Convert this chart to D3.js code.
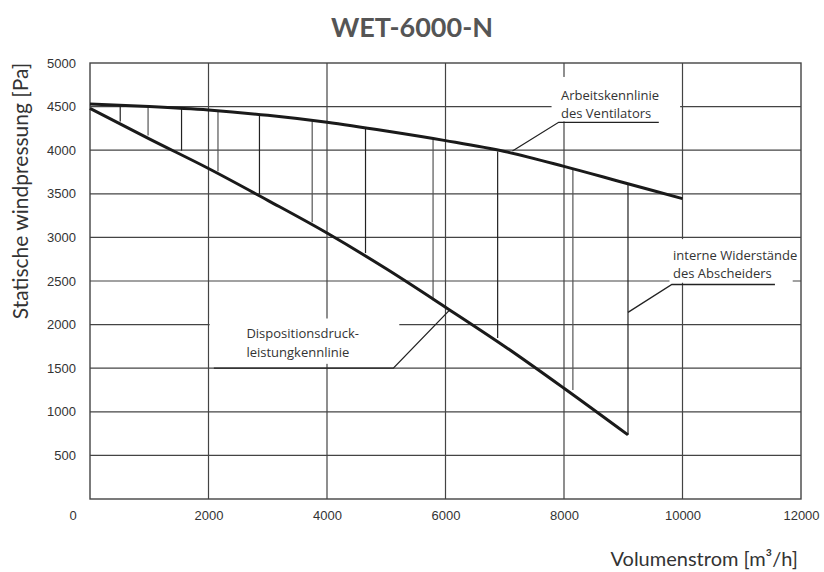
<!DOCTYPE html>
<html>
<head>
<meta charset="utf-8">
<script src="https://cdn.jsdelivr.net/npm/d3@7"></script>
<style>
  body { margin: 0; background: #fff; }
  svg { display: block; }
</style>
</head>
<body>
<div id="chart"></div>
<script>
// --- data ---
const titleText = "WET-6000-N";
const xTicks = [2000, 4000, 6000, 8000, 10000, 12000];
const yTicks = [500, 1000, 1500, 2000, 2500, 3000, 3500, 4000, 4500, 5000];

// Arbeitskennlinie des Ventilators
const fanX = [0, 1000, 2000, 3000, 4000, 5000, 6000, 7000, 8000, 9000, 10000];
const fanY = [4530, 4500, 4460, 4400, 4320, 4220, 4110, 3985, 3815, 3630, 3445];

// Dispositionsdruckleistungkennlinie
const dispX = [0, 1000, 2000, 3000, 4000, 5000, 6000, 7000, 8000, 9080];
const dispY = [4480, 4130, 3790, 3425, 3050, 2640, 2200, 1750, 1270, 735];

// vertical hatch between the curves (internal resistance)
const hatchX = [510, 980, 1545, 2160, 2860, 3750, 4650, 5790, 6880, 8150, 9080];
const hatchTop = [4515, 4495, 4475, 4445, 4395, 4330, 4245, 4120, 3985, 3790, 3625];
const hatchBottom = [4330, 4170, 3995, 3760, 3495, 3175, 2820, 2280, 1845, 1250, 735];

// annotation labels: text lines, white box, underline (far end, near end, level) and leader tip
const notes = [
  { lines: ["Arbeitskennlinie", "des Ventilators"], tx: 7950, ty: [4580, 4375],
    box: [7790, 9960, 4840, 4330], under: [9600, 7910, 4320], tip: [7130, 3990] },
  { lines: ["Dispositionsdruck-", "leistungkennlinie"], tx: 2640, ty: [1850, 1630],
    box: [2020, 5220, 2070, 1550], under: [2090, 5120, 1500], tip: [6060, 2160] },
  { lines: ["interne Widerstände", "des Abscheiders"], tx: 9840, ty: [2740, 2540],
    box: [9780, 11860, 2980, 2480], under: [11560, 9820, 2460], tip: [9080, 2140] }
];

const W = 824, H = 572;
const margin = {top: 63, right: 23, bottom: 73, left: 90};
const width = W - margin.left - margin.right;
const height = H - margin.top - margin.bottom;

const svg = d3.select("#chart").append("svg")
  .attr("width", W).attr("height", H);

const g = svg.append("g")
  .attr("transform", "translate(" + margin.left + "," + margin.top + ")");

const x = d3.scaleLinear().domain([0, 12000]).range([0, width]);
const y = d3.scaleLinear().domain([0, 5000]).range([height, 0]);

// title
svg.append("text")
  .attr("x", W / 2).attr("y", 37)
  .attr("text-anchor", "middle")
  .style("font-family", "Lato")
  .style("font-weight", "bold")
  .style("font-size", "27px")
  .attr("fill", "#555")
  .text(titleText);

// grid
g.append("g").selectAll("line")
  .data(yTicks.filter(d => d < 5000))
  .enter().append("line")
  .attr("x1", 0).attr("x2", width)
  .attr("y1", d => y(d)).attr("y2", d => y(d))
  .attr("stroke", "#444").attr("stroke-width", 1.2);

g.append("g").selectAll("line")
  .data(xTicks.filter(d => d < 12000))
  .enter().append("line")
  .attr("y1", 0).attr("y2", height)
  .attr("x1", d => x(d)).attr("x2", d => x(d))
  .attr("stroke", "#444").attr("stroke-width", 1.2);

g.append("rect")
  .attr("x", 0).attr("y", 0)
  .attr("width", width).attr("height", height)
  .attr("fill", "none").attr("stroke", "#444").attr("stroke-width", 1.4);

// white boxes behind the annotation texts
g.append("g").selectAll("rect")
  .data(notes)
  .enter().append("rect")
  .attr("x", d => x(d.box[0]))
  .attr("y", d => y(d.box[2]))
  .attr("width", d => x(d.box[1]) - x(d.box[0]))
  .attr("height", d => y(d.box[3]) - y(d.box[2]))
  .attr("fill", "#fff");

// hatch lines
g.append("g").selectAll("line")
  .data(hatchX)
  .enter().append("line")
  .attr("x1", d => x(d)).attr("x2", d => x(d))
  .attr("y1", (d, i) => y(hatchTop[i]))
  .attr("y2", (d, i) => y(hatchBottom[i]))
  .attr("stroke", (d, i) => i % 2 ? "#555" : "#222")
  .attr("stroke-width", 1.2);

// curves
const line = d3.line()
  .x(d => x(d[0])).y(d => y(d[1]))
  .curve(d3.curveMonotoneX);

g.append("path")
  .datum(fanX.map((v, i) => [v, fanY[i]]))
  .attr("d", line)
  .attr("fill", "none").attr("stroke", "#1a1a1a").attr("stroke-width", 3);

g.append("path")
  .datum(dispX.map((v, i) => [v, dispY[i]]))
  .attr("d", line)
  .attr("fill", "none").attr("stroke", "#1a1a1a").attr("stroke-width", 3);

// annotation underline + leader
const notesG = g.append("g");
notes.forEach(n => {
  notesG.append("polyline")
    .attr("points", [
      [x(n.under[0]), y(n.under[2])],
      [x(n.under[1]), y(n.under[2])],
      [x(n.tip[0]), y(n.tip[1])]
    ].map(p => p.join(",")).join(" "))
    .attr("fill", "none").attr("stroke", "#222").attr("stroke-width", 1.3);
  n.lines.forEach((t, k) => {
    notesG.append("text")
      .attr("x", x(n.tx)).attr("y", y(n.ty[k]))
      .style("font-family", "Open Sans")
      .style("font-size", "13px")
      .attr("fill", "#333")
      .text(t);
  });
});

// axes
const xAxis = d3.axisBottom(x).tickValues(xTicks).tickSize(0).tickPadding(12)
  .tickFormat(d3.format("d"));
const yAxis = d3.axisLeft(y).tickValues(yTicks).tickSize(0).tickPadding(14)
  .tickFormat(d3.format("d"));

const gx = g.append("g").attr("transform", "translate(0," + height + ")").call(xAxis);
const gy = g.append("g").call(yAxis);
[gx, gy].forEach(a => {
  a.select(".domain").remove();
  a.selectAll("text")
    .style("font-family", "Liberation Sans")
    .style("font-size", "13px")
    .attr("fill", "#333");
});

// the lone zero in the corner
g.append("text")
  .attr("x", x(0) - 17).attr("y", y(0) + 21)
  .attr("text-anchor", "middle")
  .style("font-family", "Liberation Sans")
  .style("font-size", "13px")
  .attr("fill", "#333")
  .text("0");

// axis titles
svg.append("text")
  .attr("transform", "translate(28," + (margin.top + 128) + ") rotate(-90)")
  .attr("text-anchor", "middle")
  .style("font-family", "Lato")
  .style("font-size", "21px")
  .attr("fill", "#333")
  .text("Statische windpressung [Pa]");

svg.append("text")
  .attr("x", 798).attr("y", 566)
  .attr("text-anchor", "end")
  .style("font-family", "Lato")
  .style("font-size", "20px")
  .attr("fill", "#333")
  .text("Volumenstrom [m³/h]");
</script>
</body>
</html>
